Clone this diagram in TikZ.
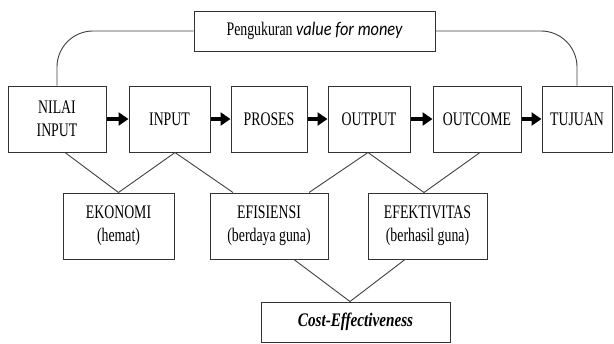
\documentclass[tikz,border=0pt]{standalone}
\usepackage{fontspec}
\setmainfont{Liberation Serif}[FakeStretch=0.72]
\newfontfamily\calfont{Carlito}[FakeStretch=0.85]
\newfontfamily\costfont{Liberation Serif}[FakeStretch=0.79]
\usetikzlibrary{arrows.meta,calc}
\begin{document}
\begin{tikzpicture}[x=0.5pt,y=-0.5pt,
  box/.style={draw=black!80,line width=0.5pt,inner sep=0pt,align=center,
    minimum height=33pt,font=\fontsize{9.6}{11.5}\selectfont},
  thinbox/.style={box,minimum height=20pt},
  flow/.style={line width=2pt,-{Triangle[length=5pt,width=6.5pt]}},
  link/.style={draw=black!75,line width=0.45pt}]
\useasboundingbox (0,0) rectangle (614,343);

% measurement box on top
\node[thinbox,minimum width=120.5pt] (vfm) at (314.5,31)
  {Pengukuran {\calfont\itshape value for money}};

% main chain
\node[box,minimum width=49pt] (nilai) at (57,119) {NILAI\\INPUT};
\node[box,minimum width=40.5pt] (input) at (169.5,119) {INPUT};
\node[box,minimum width=38pt] (proses) at (269,119) {PROSES};
\node[box,minimum width=41pt] (output) at (369,119) {OUTPUT};
\node[box,minimum width=44pt] (outcome) at (477,119) {OUTCOME};
\node[box,minimum width=35pt] (tujuan) at (577,119) {TUJUAN};

\draw[flow] (nilai) -- (input);
\draw[flow] (input) -- (proses);
\draw[flow] (proses) -- (output);
\draw[flow] (output) -- (outcome);
\draw[flow] (outcome) -- (tujuan);

\draw[link,rounded corners=18pt] (nilai.north) |- (vfm.west);
\draw[link,rounded corners=18pt] (vfm.east) -| (tujuan.north);

% the three E's
\node[box,minimum width=55.5pt] (ekonomi) at (118.5,226) {EKONOMI\\(hemat)};
\node[box,minimum width=59pt] (efisiensi) at (269,226) {EFISIENSI\\(berdaya guna)};
\node[box,minimum width=59.5pt] (efektivitas) at (427.5,226) {EFEKTIVITAS\\(berhasil guna)};

\node[thinbox,minimum width=94.5pt] (cost) at (355.5,322)
  {\costfont\bfseries\itshape Cost-Effectiveness};

\draw[link] ($(nilai.south)+(8,0)$) -- (ekonomi.north);
\draw[link] ($(input.south)+(5.5,0)$) -- (ekonomi.north);
\draw[link] ($(input.south)+(5.5,0)$) -- ($(efisiensi.north)+(-36,0)$);
\draw[link] ($(output.south)+(-1,0)$) -- ($(efisiensi.north)+(40,0)$);
\draw[link] ($(output.south)+(-1,0)$) -- ($(efektivitas.north)+(-3.5,0)$);
\draw[link] ($(outcome.south)+(3,0)$) -- ($(efektivitas.north)+(-3.5,0)$);
\draw[link] ($(efisiensi.south)+(25,0)$) -- ($(cost.north)+(-5.5,0)$);
\draw[link] ($(efektivitas.south)+(-22.5,0)$) -- ($(cost.north)+(-5.5,0)$);
\end{tikzpicture}
\end{document}
